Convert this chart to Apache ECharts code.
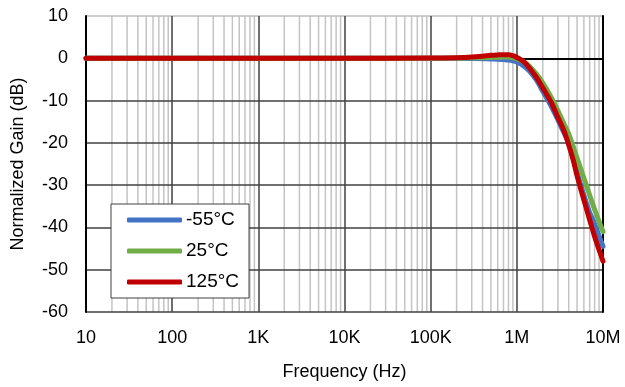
<!DOCTYPE html>
<html>
<head>
<meta charset="utf-8">
<script src="https://cdn.jsdelivr.net/npm/echarts@6/dist/echarts.min.js"></script>
<style>
  html, body { margin: 0; padding: 0; background: #fff; }
  #chart { width: 625px; height: 387px; }
</style>
</head>
<body>
<div id="chart"></div>
<script>
// Frequency points (Hz)
var freqs = [10, 100, 1e3, 1e4, 1e5, 2e5, 3e5, 4e5, 5e5, 6e5, 7e5, 8e5, 9e5, 1e6,
  1.2e6, 1.4e6, 1.7e6, 2e6, 2.5e6, 3e6, 3.5e6, 4e6, 4.5e6, 5e6, 6e6, 7e6, 8e6, 9e6, 1e7];

// Normalized gain (dB) per temperature
var gainMinus55 = [0, 0, 0, 0, 0, 0, -0.05, -0.1, -0.15, -0.2, -0.3, -0.4, -0.6, -0.9,
  -1.8, -3.0, -5.2, -7.8, -11.3, -14.6, -17.5, -20.0, -23.6, -27.0, -32.4, -36.5, -39.2, -42.0, -44.5];
var gain25 = [0, 0, 0, 0, 0, 0.05, 0.1, 0.15, 0.2, 0.25, 0.3, 0.3, 0.15, -0.1,
  -0.8, -1.9, -3.8, -5.8, -9.2, -12.4, -15.4, -17.9, -20.8, -23.6, -28.3, -32.4, -35.8, -38.6, -41.0];
var gain125 = [0, 0, 0, 0, 0.05, 0.15, 0.3, 0.5, 0.7, 0.8, 0.85, 0.85, 0.6, 0.2,
  -0.8, -2.3, -4.6, -7.0, -10.4, -14.0, -17.0, -20.5, -24.0, -27.8, -33.5, -38.2, -42.2, -45.3, -48.0];

var seriesNames = ['-55°C', '25°C', '125°C'];
var seriesColors = ['#4472C4', '#70AD47', '#C00000'];
var seriesValues = [gainMinus55, gain25, gain125];

// Axis ranges and tick labels
var gainMin = -60, gainMax = 10, gainStep = 10;
var freqTickLabels = { 10: '10', 100: '100', 1000: '1K', 10000: '10K', 100000: '100K', 1000000: '1M', 10000000: '10M' };

// Minor log grid positions (2..9 within each decade)
var minorFreqs = [];
for (var d = 10; d < 1e7; d *= 10) {
  for (var k = 2; k <= 9; k++) minorFreqs.push(d * k);
}

var font = 'Liberation Sans, Arial, sans-serif';

// Minor grid as one broken polyline: a vertical segment per minor frequency
var minorGridData = [];
minorFreqs.forEach(function (f) {
  minorGridData.push([f, gainMin], [f, gainMax], '-');
});

var series = [{
  name: 'minorGrid',
  type: 'line',
  data: minorGridData,
  connectNulls: false,
  silent: true,
  showSymbol: false,
  symbol: 'none',
  lineStyle: { color: '#c4c4c4', width: 1.5 },
  z: -1
}];

seriesNames.forEach(function (name, i) {
  series.push({
    name: name,
    type: 'line',
    smooth: 0.35,
    showSymbol: false,
    symbol: 'none',
    lineStyle: { color: seriesColors[i], width: 5, cap: 'round', join: 'round' },
    itemStyle: { color: seriesColors[i] },
    data: freqs.map(function (f, j) { return [f, seriesValues[i][j]]; }),
    z: 6 + i
  });
});

var option = {
  animation: false,
  backgroundColor: '#fff',
  grid: { left: 86, right: 22, top: 16, bottom: 75, containLabel: false },
  legend: {
    data: seriesNames.map(function (n, i) {
      return { name: n, icon: 'roundRect', itemStyle: { color: seriesColors[i], borderWidth: 0 } };
    }),
    z: 20,
    orient: 'vertical',
    left: 111,
    top: 204,
    width: 145,
    padding: [6, 10, 6, 16],
    itemWidth: 55,
    itemHeight: 5,
    itemGap: 11,
    itemStyle: { borderWidth: 0 },
    lineStyle: { type: 'solid', width: 0 },
    backgroundColor: '#fff',
    borderColor: '#404040',
    borderWidth: 1,
    textStyle: { fontFamily: font, fontSize: 19, color: '#000', lineHeight: 20, padding: [0, 0, 0, -1] }
  },
  xAxis: {
    type: 'log',
    logBase: 10,
    min: 10,
    max: 1e7,
    z: 2,
    name: 'Frequency (Hz)',
    nameLocation: 'middle',
    nameGap: 51,
    nameTextStyle: { fontFamily: font, fontSize: 18, color: '#000' },
    axisLine: { show: true, lineStyle: { color: '#000', width: 2 } },
    axisTick: { show: false },
    axisLabel: {
      fontFamily: font, fontSize: 18, color: '#000', margin: 17,
      formatter: function (v) { return freqTickLabels[Math.round(v)] || ''; }
    },
    splitLine: { show: true, lineStyle: { color: '#404040', width: 1.5 } },
    minorTick: { show: false },
    minorSplitLine: { show: false }
  },
  yAxis: [{
    type: 'value',
    min: gainMin,
    max: gainMax,
    interval: gainStep,
    z: 2,
    name: 'Normalized Gain (dB)',
    nameLocation: 'middle',
    nameGap: 59,
    nameTextStyle: { fontFamily: font, fontSize: 18, color: '#000' },
    axisLine: { show: true, lineStyle: { color: '#000', width: 2 } },
    axisTick: { show: false },
    axisLabel: { fontFamily: font, fontSize: 18, color: '#000', margin: 18 },
    splitLine: {
      show: true,
      lineStyle: { color: ['#404040', '#404040', '#404040', '#404040', '#404040', '#404040', '#404040', '#bdbdbd'], width: 1.5 }
    }
  }, {
    type: 'value',
    position: 'right',
    min: gainMin,
    max: gainMax,
    interval: gainStep,
    z: 2,
    axisLine: { show: true, lineStyle: { color: '#000', width: 2 } },
    axisTick: { show: false },
    axisLabel: { show: false },
    splitLine: { show: false }
  }],
  series: series
};

var chart = echarts.init(document.getElementById('chart'), null, { renderer: 'canvas' });
chart.setOption(option);
</script>
</body>
</html>
